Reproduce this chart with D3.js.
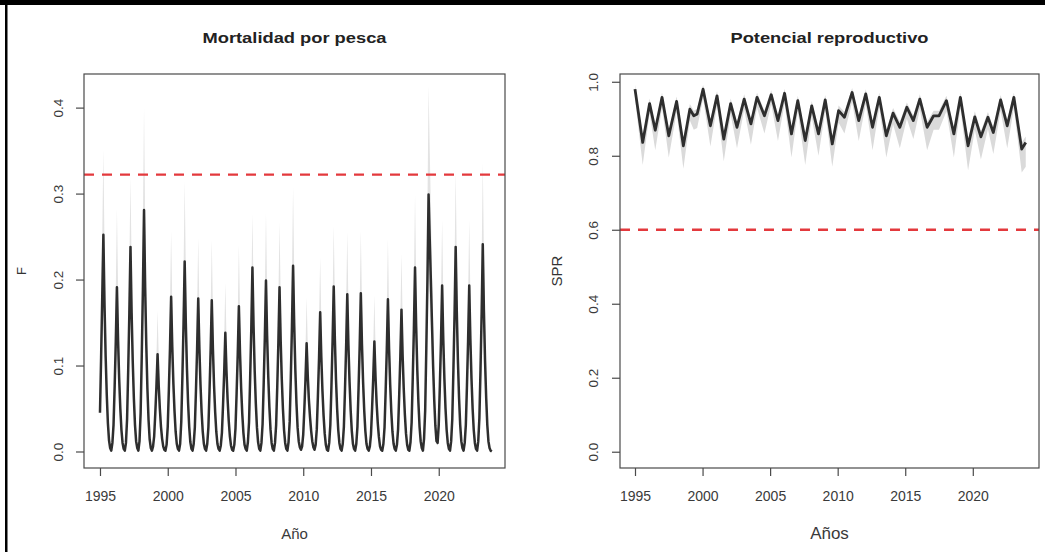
<!DOCTYPE html>
<html>
<head>
<meta charset="utf-8">
<script src="https://cdn.jsdelivr.net/npm/d3@7"></script>
<style>
  html, body { margin: 0; padding: 0; background: #ffffff; }
  svg { display: block; }
  text { font-family: "Liberation Sans", Arial, sans-serif; }
</style>
</head>
<body>
<svg id="chart" width="1045" height="552"></svg>
<script>
// ---------------- DATA ----------------
const years = [1995,1996,1997,1998,1999,2000,2001,2002,2003,2004,2005,2006,2007,2008,2009,
               2010,2011,2012,2013,2014,2015,2016,2017,2018,2019,2020,2021,2022,2023];

// Monthly fishing mortality F (Jan..Dec) per year
const fMonthly = [
  [0.045,0.110,0.180,0.252,0.171,0.111,0.066,0.033,0.013,0.004,0.001,0.010],
  [0.031,0.076,0.128,0.191,0.130,0.084,0.050,0.025,0.010,0.003,0.001,0.010],
  [0.038,0.095,0.161,0.238,0.162,0.105,0.062,0.031,0.012,0.004,0.001,0.012],
  [0.045,0.112,0.188,0.281,0.191,0.124,0.073,0.037,0.014,0.004,0.001,0.006],
  [0.018,0.045,0.076,0.113,0.077,0.050,0.029,0.015,0.006,0.002,0.001,0.008],
  [0.029,0.072,0.121,0.180,0.122,0.079,0.047,0.023,0.009,0.003,0.001,0.009],
  [0.035,0.088,0.148,0.221,0.150,0.097,0.057,0.029,0.011,0.003,0.001,0.009],
  [0.028,0.071,0.119,0.178,0.121,0.078,0.046,0.023,0.009,0.003,0.001,0.009],
  [0.028,0.070,0.118,0.176,0.120,0.077,0.046,0.023,0.009,0.003,0.001,0.007],
  [0.022,0.055,0.092,0.138,0.094,0.061,0.036,0.018,0.007,0.002,0.001,0.008],
  [0.027,0.068,0.113,0.169,0.115,0.074,0.044,0.022,0.008,0.003,0.001,0.011],
  [0.034,0.086,0.143,0.214,0.146,0.094,0.056,0.028,0.011,0.003,0.001,0.010],
  [0.032,0.080,0.133,0.199,0.135,0.088,0.052,0.026,0.010,0.003,0.001,0.010],
  [0.031,0.076,0.128,0.191,0.130,0.084,0.050,0.025,0.010,0.003,0.001,0.011],
  [0.035,0.086,0.145,0.216,0.147,0.095,0.056,0.028,0.012,0.005,0.002,0.006],
  [0.020,0.050,0.084,0.126,0.088,0.060,0.040,0.024,0.012,0.005,0.002,0.008],
  [0.026,0.065,0.109,0.162,0.110,0.071,0.042,0.021,0.008,0.002,0.001,0.010],
  [0.031,0.077,0.129,0.192,0.131,0.084,0.050,0.025,0.010,0.003,0.001,0.009],
  [0.029,0.073,0.123,0.183,0.124,0.081,0.048,0.024,0.009,0.003,0.001,0.009],
  [0.029,0.074,0.123,0.184,0.125,0.081,0.048,0.024,0.009,0.003,0.001,0.006],
  [0.020,0.051,0.086,0.128,0.087,0.056,0.033,0.017,0.006,0.002,0.001,0.009],
  [0.028,0.071,0.119,0.177,0.120,0.078,0.046,0.023,0.009,0.003,0.001,0.008],
  [0.026,0.066,0.111,0.165,0.112,0.073,0.043,0.021,0.008,0.002,0.001,0.011],
  [0.034,0.086,0.143,0.214,0.146,0.095,0.057,0.029,0.012,0.004,0.001,0.015],
  [0.048,0.120,0.200,0.299,0.248,0.200,0.150,0.100,0.060,0.030,0.012,0.010],
  [0.031,0.077,0.129,0.193,0.131,0.085,0.050,0.025,0.010,0.003,0.001,0.012],
  [0.038,0.095,0.159,0.238,0.162,0.105,0.062,0.031,0.012,0.004,0.001,0.010],
  [0.031,0.077,0.129,0.193,0.131,0.085,0.050,0.025,0.010,0.003,0.001,0.012],
  [0.039,0.096,0.161,0.241,0.164,0.106,0.063,0.031,0.012,0.004,0.001,0.000]
];
// Coefficient of variation of F per year (for 95% confidence band)
const fCV = [0.17,0.20,0.15,0.18,0.19,0.18,0.18,0.17,0.17,0.18,0.18,0.13,0.17,0.17,0.18,
             0.18,0.17,0.16,0.17,0.17,0.18,0.17,0.17,0.17,0.18,0.17,0.16,0.17,0.17];
const fRef = 0.322;   // F reference (red dashed line)

// Spawning potential ratio (time, value, lower, upper)
const sprTime = [1995.00,1995.57,1996.08,1996.50,1997.00,1997.50,1998.08,1998.58,1999.06,1999.35,
                 1999.60,2000.04,2000.58,2001.07,2001.57,2002.08,2002.55,2003.08,2003.58,2004.03,
                 2004.58,2005.08,2005.58,2006.07,2006.58,2007.05,2007.60,2008.08,2008.58,2009.08,
                 2009.60,2010.07,2010.50,2011.07,2011.56,2012.08,2012.58,2013.08,2013.60,2014.10,
                 2014.60,2015.12,2015.60,2016.08,2016.62,2017.10,2017.50,2018.05,2018.60,2019.08,
                 2019.65,2020.15,2020.60,2021.12,2021.52,2022.06,2022.55,2023.04,2023.62,2023.92];
const sprValue = [0.980,0.836,0.941,0.869,0.958,0.854,0.947,0.827,0.926,0.908,
                  0.913,0.980,0.881,0.962,0.845,0.941,0.877,0.953,0.886,0.958,
                  0.908,0.965,0.895,0.969,0.859,0.949,0.841,0.935,0.859,0.951,
                  0.832,0.922,0.904,0.971,0.895,0.967,0.877,0.958,0.854,0.915,
                  0.877,0.931,0.895,0.953,0.877,0.908,0.908,0.949,0.859,0.958,
                  0.827,0.905,0.851,0.904,0.863,0.951,0.881,0.958,0.818,0.836];
const sprLower = [0.955,0.775,0.915,0.815,0.930,0.795,0.918,0.765,0.895,0.870,
                  0.875,0.955,0.825,0.935,0.785,0.912,0.820,0.925,0.830,0.930,
                  0.860,0.940,0.840,0.942,0.795,0.920,0.775,0.905,0.800,0.922,
                  0.770,0.890,0.860,0.945,0.840,0.940,0.815,0.930,0.795,0.885,
                  0.820,0.900,0.845,0.925,0.815,0.870,0.870,0.920,0.795,0.930,
                  0.760,0.870,0.790,0.872,0.805,0.922,0.820,0.930,0.755,0.770];
const sprUpper = [0.992,0.852,0.955,0.884,0.970,0.870,0.960,0.845,0.940,0.922,
                  0.927,0.992,0.896,0.975,0.860,0.955,0.892,0.966,0.900,0.970,
                  0.922,0.977,0.909,0.981,0.875,0.962,0.857,0.948,0.874,0.964,
                  0.849,0.936,0.918,0.983,0.909,0.980,0.892,0.970,0.870,0.929,
                  0.892,0.944,0.909,0.966,0.892,0.922,0.922,0.962,0.875,0.970,
                  0.845,0.920,0.867,0.918,0.878,0.964,0.896,0.970,0.836,0.852];
const sprRef = 0.6;

const xTicks = [1995, 2000, 2005, 2010, 2015, 2020];
const fTicks = [0.0, 0.1, 0.2, 0.3, 0.4];
const sprTicks = [0.0, 0.2, 0.4, 0.6, 0.8, 1.0];

// ---------------- BUILD ----------------
const fSeries = [];
years.forEach((yr, i) => {
  fMonthly[i].forEach((v, m) => {
    const k = Math.exp(1.96 * fCV[i]);
    fSeries.push({t: yr + m / 12, v: v, lo: v / k, hi: v * k});
  });
});
const sprSeries = sprTime.map((t, i) => ({t: t, v: sprValue[i], lo: sprLower[i], hi: sprUpper[i]}));

const svg = d3.select("#chart");

// outer frame (top and left black bars)
svg.append("rect").attr("x", 0).attr("y", 0).attr("width", 1045).attr("height", 5).attr("fill", "#000");
svg.append("rect").attr("x", 5).attr("y", 5).attr("width", 2.5).attr("height", 547).attr("fill", "#000");

const axisColor = "#4a4a4a";
const labelColor = "#3a3a3a";

function panel(opts) {
  const {x0, x1, y0, y1, xDomain, yDomain, yTicks, title, titleLen, xLabel, yLabel,
         series, ref, yLabelX, yTickLabelX, xLabelSize, yLabelSize, lineWidth, bandColor} = opts;
  const x = d3.scaleLinear().domain(xDomain).range([x0, x1]);
  const y = d3.scaleLinear().domain(yDomain).range([y1, y0]);
  const g = svg.append("g");

  // confidence band
  g.append("path")
    .datum(series)
    .attr("fill", bandColor)
    .attr("stroke", "none")
    .attr("d", d3.area().x(d => x(d.t)).y0(d => y(d.lo)).y1(d => y(d.hi)));

  // main line
  g.append("path")
    .datum(series)
    .attr("fill", "none")
    .attr("stroke", "#2e2e2e")
    .attr("stroke-width", lineWidth)
    .attr("stroke-linejoin", "round")
    .attr("d", d3.line().x(d => x(d.t)).y(d => y(d.v)));

  // reference line
  g.append("line")
    .attr("x1", x0).attr("x2", x1)
    .attr("y1", y(ref)).attr("y2", y(ref))
    .attr("stroke", "#e3393d")
    .attr("stroke-width", 2.4)
    .attr("stroke-dasharray", "10,8");

  // box
  g.append("rect")
    .attr("x", x0).attr("y", y0).attr("width", x1 - x0).attr("height", y1 - y0)
    .attr("fill", "none").attr("stroke", axisColor).attr("stroke-width", 1.2);

  // x axis
  const xa = g.append("g").attr("transform", `translate(0,${y1})`)
    .call(d3.axisBottom(x).tickValues(xTicks).tickSize(8).tickFormat(d3.format("d")));
  xa.select(".domain").remove();
  xa.selectAll("line").attr("stroke", axisColor).attr("stroke-width", 1.2);
  xa.selectAll("text").attr("fill", labelColor).attr("font-size", 14)
    .attr("font-family", "Liberation Sans, Arial, sans-serif").attr("dy", 0).attr("y", 33);

  // y axis
  const ya = g.append("g").attr("transform", `translate(${x0},0)`)
    .call(d3.axisLeft(y).tickValues(yTicks).tickSize(8).tickFormat(d3.format(".1f")));
  ya.select(".domain").remove();
  ya.selectAll("line").attr("stroke", axisColor).attr("stroke-width", 1.2);
  ya.selectAll(".tick text")
    .attr("fill", labelColor).attr("font-size", 13.5)
    .attr("font-family", "Liberation Sans, Arial, sans-serif")
    .attr("x", 0).attr("dy", 0)
    .attr("text-anchor", "middle")
    .attr("dominant-baseline", "central")
    .attr("transform", `translate(${yTickLabelX - x0},0) rotate(-90)`);

  // title
  g.append("text")
    .attr("x", (x0 + x1) / 2).attr("y", 43)
    .attr("text-anchor", "middle")
    .attr("font-weight", "bold").attr("font-size", 15.5)
    .attr("textLength", titleLen).attr("lengthAdjust", "spacingAndGlyphs")
    .attr("fill", "#222")
    .text(title);

  // x label
  g.append("text")
    .attr("x", (x0 + x1) / 2).attr("y", 539)
    .attr("text-anchor", "middle").attr("font-size", xLabelSize)
    .attr("fill", labelColor).text(xLabel);

  // y label
  g.append("text")
    .attr("transform", `translate(${yLabelX},${(y0 + y1) / 2}) rotate(-90)`)
    .attr("text-anchor", "middle").attr("dominant-baseline", "central")
    .attr("font-size", yLabelSize)
    .attr("fill", "#333333").text(yLabel);
}

panel({
  x0: 84, x1: 505, y0: 74, y1: 468,
  xDomain: [1993.82, 2024.89], yDomain: [-0.0192, 0.4391],
  yTicks: fTicks, title: "Mortalidad por pesca", titleLen: 184, xLabel: "Año", yLabel: "F",
  series: fSeries, ref: fRef, yLabelX: 21, yTickLabelX: 58, xLabelSize: 15, yLabelSize: 13,
  lineWidth: 2.5, bandColor: "#e3e3e3"
});

panel({
  x0: 620, x1: 1039, y0: 74, y1: 468,
  xDomain: [1993.89, 2024.9], yDomain: [-0.044, 1.021],
  yTicks: sprTicks, title: "Potencial reproductivo", titleLen: 198, xLabel: "Años", yLabel: "SPR",
  series: sprSeries, ref: sprRef, yLabelX: 556, yTickLabelX: 593, xLabelSize: 17, yLabelSize: 15,
  lineWidth: 2.8, bandColor: "#dadada"
});
</script>
</body>
</html>
